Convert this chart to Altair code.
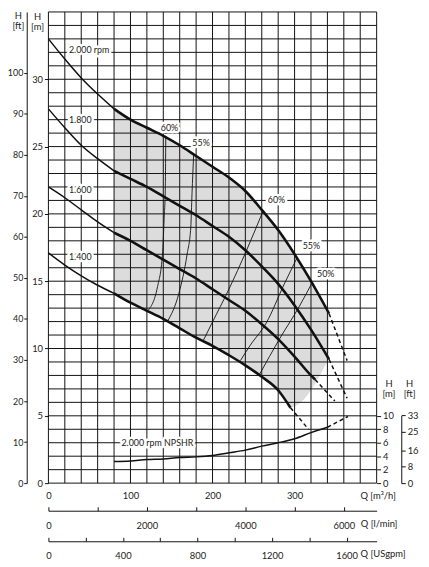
import altair as alt
import pandas as pd

# ---------------- data ----------------
# speed curves, Q [m3/h] / H [m]  (solid part)
q_2000 = [0, 20, 40, 60, 80, 100, 120, 140, 160, 180, 200, 220, 240, 260, 280, 300, 320, 342]
h_2000 = [33.0, 31.5, 30.1, 28.9, 27.8, 27.0, 26.4, 25.8, 25.1, 24.3, 23.5, 22.7, 21.7, 20.3, 18.8, 17.0, 15.0, 12.6]
q_1800 = [0, 20, 40, 60, 80, 100, 120, 140, 160, 180, 200, 220, 240, 260, 280, 300, 320, 342]
h_1800 = [27.8, 26.4, 25.1, 24.1, 23.2, 22.6, 22.0, 21.3, 20.6, 19.9, 19.1, 18.3, 17.3, 16.1, 14.8, 13.2, 11.4, 9.2]
q_1600 = [0, 20, 40, 60, 80, 100, 120, 140, 160, 180, 200, 220, 240, 260, 280, 300, 320, 325]
h_1600 = [22.0, 21.2, 20.3, 19.4, 18.6, 18.0, 17.3, 16.6, 15.9, 15.2, 14.4, 13.6, 12.8, 11.8, 10.7, 9.4, 8.0, 7.7]
q_1400 = [0, 20, 40, 60, 80, 100, 120, 140, 160, 180, 200, 220, 240, 260, 280, 295]
h_1400 = [17.1, 16.2, 15.4, 14.7, 14.1, 13.4, 12.8, 12.2, 11.5, 10.8, 10.2, 9.5, 8.75, 7.9, 6.9, 5.6]

# dashed extensions
q_2000_ext = [342, 364]
h_2000_ext = [12.6, 9.1]
q_1800_ext = [342, 364]
h_1800_ext = [9.2, 6.3]
q_1600_ext = [325, 349]
h_1600_ext = [7.7, 6.1]
q_1400_ext = [295, 317]
h_1400_ext = [5.6, 4.0]

# iso-efficiency curves
q_eff60_l = [143, 142.5, 141, 139, 133, 121]
h_eff60_l = [25.8, 22.0, 19.6, 17.0, 14.6, 12.8]
q_eff55_l = [177, 175, 173.5, 169, 159, 145]
h_eff55_l = [24.4, 21.5, 19.0, 17.0, 14.1, 12.0]
q_eff60_r = [261.5, 241.5, 219.5, 199.4, 188]
h_eff60_r = [20.2, 17.3, 14.35, 11.9, 10.5]
q_eff55_r = [303.5, 287.5, 265.5, 245.5, 234]
h_eff55_r = [16.8, 14.8, 11.9, 10.2, 9.1]
q_eff50_r = [321.5, 305.5, 281.5, 257.5]
h_eff50_r = [14.9, 13.1, 10.7, 8.1]

# NPSHR at 2000 rpm, Q [m3/h] / NPSHR [m]
q_npsh = [80, 100, 120, 140, 160, 180, 200, 220, 240, 260, 280, 300, 320, 340]
v_npsh = [3.2, 3.3, 3.5, 3.6, 3.8, 3.9, 4.1, 4.5, 4.9, 5.5, 6.0, 6.6, 7.5, 8.3]
q_npsh_ext = [340, 365]
v_npsh_ext = [8.3, 9.9]

# text annotations
rpm_text = ["2.000 rpm", "1.800", "1.600", "1.400", "2.000 rpm  NPSHR"]
rpm_q = [25, 25, 25, 25, 89]
rpm_h = [32.2, 27.0, 21.8, 16.8, 3.0]
pct_text = ["60%", "55%", "60%", "55%", "50%"]
pct_q = [147.5, 186, 278, 320.5, 338]
pct_h = [26.4, 25.3, 21.0, 17.6, 15.5]

# axis tick values
h_ticks = [0, 5, 10, 15, 20, 25, 30]
q_ticks = [0, 100, 200, 300]
ft_ticks = [0, 10, 20, 30, 40, 50, 60, 70, 80, 90, 100]
npsh_ticks = [0, 2, 4, 6, 8, 10]
npsh_ft_ticks = [0, 8, 16, 25, 33]
lmin_ticks = [0, 1000, 2000, 3000, 4000, 5000, 6000]
gpm_ticks = [0, 200, 400, 600, 800, 1000, 1200, 1400, 1600]

# ---------------- tables ----------------
def table(qs, hs, name):
    return pd.DataFrame({"q": qs, "h": hs, "curve": name})

speed = pd.concat([table(q_2000, h_2000, "2000"), table(q_1800, h_1800, "1800"),
                   table(q_1600, h_1600, "1600"), table(q_1400, h_1400, "1400")])
speed_ext = pd.concat([table(q_2000_ext, h_2000_ext, "2000"), table(q_1800_ext, h_1800_ext, "1800"),
                       table(q_1600_ext, h_1600_ext, "1600"), table(q_1400_ext, h_1400_ext, "1400")])
eff = pd.concat([table(q_eff60_l, h_eff60_l, "60l"), table(q_eff55_l, h_eff55_l, "55l"),
                 table(q_eff60_r, h_eff60_r, "60r"), table(q_eff55_r, h_eff55_r, "55r"),
                 table(q_eff50_r, h_eff50_r, "50r")])
top = table(q_2000, h_2000, "2000")
top = top[top.q >= 80]
# lower edge of the operating range: 1400 rpm curve, then to the end of the 1800 rpm curve
low = pd.concat([table(q_1400, h_1400, "1400"), table(q_1800[-1:], h_1800[-1:], "1800")])
low = low[low.q >= 80]
npsh = pd.concat([pd.DataFrame({"q": q_npsh, "v": v_npsh, "part": "solid"}),
                  pd.DataFrame({"q": q_npsh_ext, "v": v_npsh_ext, "part": "dash"})])
rpm_df = pd.DataFrame({"t": rpm_text, "q": rpm_q, "h": rpm_h})
pct_df = pd.DataFrame({"t": pct_text, "q": pct_q, "h": pct_h})

# ---------------- styling ----------------
W, H = 333, 478
FONT = "Lato, Open Sans, sans-serif"
INK = "#111111"
TXT = "#222222"
FS = 9.5

xs = alt.Scale(domain=[0, 400], nice=False, zero=False)
ys = alt.Scale(domain=[0, 35], nice=False)

xaxis = alt.Axis(values=q_ticks, format="d", grid=False, domain=False, ticks=False, tickSize=0,
                 labelPadding=8, labelFlush=False, labelOverlap=False,
                 title="Q [m³/h]", titleX=334, titleY=13, titleAlign="center", titleBaseline="middle")
yaxis = alt.Axis(values=h_ticks, format="d", grid=False, domain=False, tickSize=4, labelPadding=2,
                 labelOverlap=False, title=["H", "[m]"], titleAngle=0, titleX=-11.5, titleY=0,
                 titleAlign="center", titleBaseline="top", titleLineHeight=10)

def X(f="q"):
    return alt.X(f"{f}:Q", scale=xs, axis=xaxis)

def Y(f="h"):
    return alt.Y(f"{f}:Q", scale=ys, axis=yaxis)

grey = alt.Chart(top).mark_area(color="#dcdcdc", interpolate="monotone").encode(x=X(), y=Y())
mask = alt.Chart(low).mark_area(color="white", stroke="white", strokeWidth=1, interpolate="monotone").encode(
    x=X(), y=Y())
vgrid = alt.Chart(alt.sequence(0, 401, 20, as_="g")).mark_rule(color=INK, strokeWidth=1).encode(x=X("g"))
hgrid = alt.Chart(alt.sequence(0, 35.5, 1, as_="g")).mark_rule(color=INK, strokeWidth=1).encode(y=Y("g"))

eff_l = alt.Chart(eff).mark_line(color=INK, strokeWidth=0.9, interpolate="monotone").encode(
    x=X(), y=Y(), detail="curve:N")
thin = alt.Chart(speed).transform_filter("datum.q <= 80").mark_line(
    color=INK, strokeWidth=1.5, interpolate="monotone").encode(x=X(), y=Y(), detail="curve:N")
thick = alt.Chart(speed).transform_filter("datum.q >= 80").mark_line(
    color=INK, strokeWidth=2.6, interpolate="monotone").encode(x=X(), y=Y(), detail="curve:N")
dash = alt.Chart(speed_ext).mark_line(color=INK, strokeWidth=1.5, strokeDash=[4, 3]).encode(
    x=X(), y=Y(), detail="curve:N")

halo_kw = dict(font=FONT, fontSize=9, color="white", stroke="white", strokeWidth=5, strokeJoin="round")
txt_kw = dict(font=FONT, fontSize=9, color=TXT)
rpm_halo = alt.Chart(rpm_df).mark_text(align="left", baseline="middle", **halo_kw).encode(x=X(), y=Y(), text="t:N")
rpm_txt = alt.Chart(rpm_df).mark_text(align="left", baseline="middle", **txt_kw).encode(x=X(), y=Y(), text="t:N")
pct_halo = alt.Chart(pct_df).mark_text(align="center", baseline="middle", **halo_kw).encode(x=X(), y=Y(), text="t:N")
pct_txt = alt.Chart(pct_df).mark_text(align="center", baseline="middle", **txt_kw).encode(x=X(), y=Y(), text="t:N")

main = alt.layer(grey, mask, vgrid, hgrid, eff_l, thin, thick, dash, rpm_halo, rpm_txt, pct_halo, pct_txt)

# NPSHR curve on its own scale (0..10 m over the lowest 5 m of the grid)
npsh_px = 10 * H / 70.0
npsh_scale = alt.Scale(domain=[0, 10], range=[H, H - npsh_px], nice=False)
npsh_axis = alt.Axis(orient="right", values=npsh_ticks, format="d", grid=False, domain=False, tickSize=4,
                     labelPadding=2, labelOverlap=False, title=["H", "[m]"], titleAngle=0, titleX=12,
                     titleY=372, titleAlign="center", titleBaseline="top", titleLineHeight=10)
npsh_x = alt.X("q:Q", scale=xs, axis=None)
npsh_solid = alt.Chart(npsh).transform_filter("datum.part == 'solid'").mark_line(
    color=INK, strokeWidth=1.5, interpolate="monotone").encode(
    x=npsh_x, y=alt.Y("v:Q", scale=npsh_scale, axis=npsh_axis))
npsh_dash = alt.Chart(npsh).transform_filter("datum.part == 'dash'").mark_line(
    color=INK, strokeWidth=1.5, strokeDash=[4, 3]).encode(x=npsh_x, y=alt.Y("v:Q", scale=npsh_scale, axis=npsh_axis))
npsh_layer = alt.layer(npsh_solid, npsh_dash)

# feet axes
ft_left = alt.Chart(pd.DataFrame({"ft": [0]})).mark_point(opacity=0).encode(
    y=alt.Y("ft:Q", scale=alt.Scale(domain=[0, 35 / 0.3048], nice=False),
            axis=alt.Axis(orient="left", offset=22, values=ft_ticks, format="d", grid=False, domain=True,
                          tickSize=3, labelPadding=1, labelFontSize=9, labelOverlap=False,
                          title=["H", "[ft]"], titleAngle=0, titleX=-9, titleY=-1, titleAlign="center",
                          titleBaseline="top", titleLineHeight=10)))
ft_px = 33 * 0.3048 * H / 70.0
ft_right = alt.Chart(pd.DataFrame({"ft": [0]})).mark_point(opacity=0).encode(
    y=alt.Y("ft:Q", scale=alt.Scale(domain=[0, 33], range=[H, H - ft_px], nice=False),
            axis=alt.Axis(orient="right", offset=25, values=npsh_ft_ticks, format="d", grid=False, domain=True,
                          tickSize=4, labelPadding=2, labelOverlap=False, title=["H", "[ft]"], titleAngle=0,
                          titleX=8, titleY=372, titleAlign="center", titleBaseline="top", titleLineHeight=10)))

# extra flow axes
lmin = alt.Chart(pd.DataFrame({"l": [0]})).mark_point(opacity=0).encode(
    x=alt.X("l:Q", scale=alt.Scale(domain=[0, 400 * 1000 / 60.0], nice=False, zero=False),
            axis=alt.Axis(orient="top", offset=-(H + 28), values=lmin_ticks, format="d",
                          labelExpr="datum.value % 2000 == 0 ? datum.label : ''", grid=False, domain=True,
                          tickSize=4, labelPadding=-14, labelBaseline="top", labelFlush=False,
                          labelOverlap=False, title="Q [l/min]", titleX=335, titleY=13,
                          titleAlign="center", titleBaseline="middle")))
gpm = alt.Chart(pd.DataFrame({"g": [0]})).mark_point(opacity=0).encode(
    x=alt.X("g:Q", scale=alt.Scale(domain=[0, 400 / 0.2271247], nice=False, zero=False),
            axis=alt.Axis(orient="top", offset=-(H + 59), values=gpm_ticks, format="d",
                          labelExpr="datum.value % 400 == 0 ? datum.label : ''", grid=False, domain=True,
                          tickSize=4, labelPadding=-13, labelBaseline="top", labelFlush=False,
                          labelOverlap=False, title="Q [USgpm]", titleX=339, titleY=12,
                          titleAlign="center", titleBaseline="middle")))

chart = alt.layer(main, npsh_layer, ft_left, ft_right, lmin, gpm).resolve_scale(
    x="independent", y="independent"
).properties(
    width=W, height=H,
    autosize=alt.AutoSizeParams(type="none"),
    padding={"left": 41, "top": 0, "right": 45, "bottom": 76},
).configure_view(stroke=None).configure_axis(
    labelFont=FONT, titleFont=FONT, labelFontSize=FS, titleFontSize=FS, labelColor=TXT, titleColor=TXT,
    titleFontWeight="normal", tickColor=INK, domainColor=INK, domainWidth=1, tickWidth=1
)

chart.save("out.html", embed_options={"renderer": "svg", "actions": False})
